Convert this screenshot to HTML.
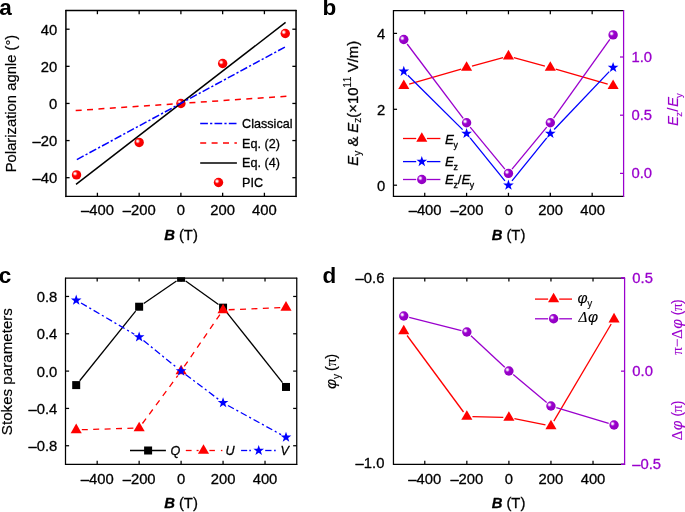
<!DOCTYPE html>
<html lang="en"><head><meta charset="utf-8"><title>Figure</title>
<style>
html,body{margin:0;padding:0;background:#fff;}
body{width:685px;height:512px;overflow:hidden;}
svg{display:block;font-family:"Liberation Sans",sans-serif;}
text{stroke:#000;stroke-width:0.3px;stroke-linejoin:round;}
text[fill="#9a00cd"]{stroke:#9a00cd;}
</style></head><body>
<svg width="685" height="512" viewBox="0 0 685 512">
<defs>
<radialGradient id="gr" cx="0.36" cy="0.37" r="0.64" fx="0.335" fy="0.36">
<stop offset="0" stop-color="#ffffff"/><stop offset="0.09" stop-color="#fff4f4"/><stop offset="0.22" stop-color="#ff9c9c"/><stop offset="0.36" stop-color="#ff1818"/><stop offset="0.46" stop-color="#ff0000"/><stop offset="1" stop-color="#f00000"/>
</radialGradient>
<radialGradient id="gp" cx="0.36" cy="0.37" r="0.64" fx="0.335" fy="0.36">
<stop offset="0" stop-color="#ffffff"/><stop offset="0.09" stop-color="#fbf2fe"/><stop offset="0.22" stop-color="#d698ec"/><stop offset="0.36" stop-color="#a318d2"/><stop offset="0.46" stop-color="#9a00cd"/><stop offset="1" stop-color="#9000c0"/>
</radialGradient>
</defs>
<rect width="685" height="512" fill="#fff"/>
<path d="M65.90,10.50 H296.05 M65.90,196.45 H296.05" fill="none" stroke="#000" stroke-width="1.3" stroke-linecap="round"/>
<line x1="65.90" y1="10.50" x2="65.90" y2="196.45" stroke="#000" stroke-width="1.5" stroke-linecap="round"/>
<line x1="296.05" y1="10.50" x2="296.05" y2="196.45" stroke="#000" stroke-width="1.5" stroke-linecap="round"/>
<line x1="97.40" y1="196.45" x2="97.40" y2="192.75" stroke="#000" stroke-width="1.3" stroke-linecap="butt"/>
<line x1="97.40" y1="10.50" x2="97.40" y2="14.20" stroke="#000" stroke-width="1.3" stroke-linecap="butt"/>
<text x="97.40" y="215.00" font-size="14.8" text-anchor="middle" fill="#000">–400</text>
<line x1="139.15" y1="196.45" x2="139.15" y2="192.75" stroke="#000" stroke-width="1.3" stroke-linecap="butt"/>
<line x1="139.15" y1="10.50" x2="139.15" y2="14.20" stroke="#000" stroke-width="1.3" stroke-linecap="butt"/>
<text x="139.15" y="215.00" font-size="14.8" text-anchor="middle" fill="#000">–200</text>
<line x1="180.90" y1="196.45" x2="180.90" y2="192.75" stroke="#000" stroke-width="1.3" stroke-linecap="butt"/>
<line x1="180.90" y1="10.50" x2="180.90" y2="14.20" stroke="#000" stroke-width="1.3" stroke-linecap="butt"/>
<text x="180.90" y="215.00" font-size="14.8" text-anchor="middle" fill="#000">0</text>
<line x1="222.65" y1="196.45" x2="222.65" y2="192.75" stroke="#000" stroke-width="1.3" stroke-linecap="butt"/>
<line x1="222.65" y1="10.50" x2="222.65" y2="14.20" stroke="#000" stroke-width="1.3" stroke-linecap="butt"/>
<text x="222.65" y="215.00" font-size="14.8" text-anchor="middle" fill="#000">200</text>
<line x1="264.40" y1="196.45" x2="264.40" y2="192.75" stroke="#000" stroke-width="1.3" stroke-linecap="butt"/>
<line x1="264.40" y1="10.50" x2="264.40" y2="14.20" stroke="#000" stroke-width="1.3" stroke-linecap="butt"/>
<text x="264.40" y="215.00" font-size="14.8" text-anchor="middle" fill="#000">400</text>
<line x1="65.90" y1="177.69" x2="69.60" y2="177.69" stroke="#000" stroke-width="1.3" stroke-linecap="butt"/>
<line x1="296.05" y1="177.69" x2="292.35" y2="177.69" stroke="#000" stroke-width="1.3" stroke-linecap="butt"/>
<text x="57.30" y="183.19" font-size="14.8" text-anchor="end" fill="#000">–40</text>
<line x1="65.90" y1="140.57" x2="69.60" y2="140.57" stroke="#000" stroke-width="1.3" stroke-linecap="butt"/>
<line x1="296.05" y1="140.57" x2="292.35" y2="140.57" stroke="#000" stroke-width="1.3" stroke-linecap="butt"/>
<text x="57.30" y="146.07" font-size="14.8" text-anchor="end" fill="#000">–20</text>
<line x1="65.90" y1="103.45" x2="69.60" y2="103.45" stroke="#000" stroke-width="1.3" stroke-linecap="butt"/>
<line x1="296.05" y1="103.45" x2="292.35" y2="103.45" stroke="#000" stroke-width="1.3" stroke-linecap="butt"/>
<text x="57.30" y="108.95" font-size="14.8" text-anchor="end" fill="#000">0</text>
<line x1="65.90" y1="66.33" x2="69.60" y2="66.33" stroke="#000" stroke-width="1.3" stroke-linecap="butt"/>
<line x1="296.05" y1="66.33" x2="292.35" y2="66.33" stroke="#000" stroke-width="1.3" stroke-linecap="butt"/>
<text x="57.30" y="71.83" font-size="14.8" text-anchor="end" fill="#000">20</text>
<line x1="65.90" y1="29.21" x2="69.60" y2="29.21" stroke="#000" stroke-width="1.3" stroke-linecap="butt"/>
<line x1="296.05" y1="29.21" x2="292.35" y2="29.21" stroke="#000" stroke-width="1.3" stroke-linecap="butt"/>
<text x="57.30" y="34.71" font-size="14.8" text-anchor="end" fill="#000">40</text>
<circle cx="76.53" cy="174.91" r="4.7" fill="url(#gr)"/>
<circle cx="139.15" cy="142.43" r="4.7" fill="url(#gr)"/>
<circle cx="180.90" cy="103.45" r="4.7" fill="url(#gr)"/>
<circle cx="222.65" cy="63.55" r="4.7" fill="url(#gr)"/>
<circle cx="285.27" cy="33.48" r="4.7" fill="url(#gr)"/>
<line x1="286.40" y1="96.25" x2="75.30" y2="110.60" stroke="#ff0000" stroke-width="1.5" stroke-dasharray="6.0 5.4" stroke-linecap="butt"/>
<line x1="285.60" y1="22.40" x2="76.00" y2="184.40" stroke="#000" stroke-width="1.5" stroke-linecap="butt"/>
<line x1="284.90" y1="47.10" x2="75.70" y2="160.20" stroke="#0000ff" stroke-width="1.5" stroke-dasharray="7.7 2.2 2.2 2.2" stroke-linecap="butt"/>
<line x1="200.20" y1="123.60" x2="236.90" y2="123.60" stroke="#0000ff" stroke-width="1.5" stroke-dasharray="7.7 2.2 2.2 2.2" stroke-linecap="butt"/>
<line x1="200.20" y1="143.10" x2="236.90" y2="143.10" stroke="#ff0000" stroke-width="1.5" stroke-dasharray="6.0 5.4" stroke-linecap="butt"/>
<line x1="200.20" y1="162.90" x2="236.90" y2="162.90" stroke="#000" stroke-width="1.5" stroke-linecap="butt"/>
<circle cx="218.50" cy="182.50" r="4.7" fill="url(#gr)"/>
<text x="242.10" y="128.20" font-size="12.6" text-anchor="start" fill="#000">Classical</text>
<text x="242.10" y="147.80" font-size="12.6" text-anchor="start" fill="#000">Eq. (2)</text>
<text x="242.10" y="167.30" font-size="12.6" text-anchor="start" fill="#000">Eq. (4)</text>
<text x="242.10" y="187.20" font-size="12.6" text-anchor="start" fill="#000">PIC</text>
<text x="181" y="239.6" font-size="14.8" text-anchor="middle"><tspan font-weight="bold" font-style="italic">B</tspan> (T)</text>
<text transform="translate(15.90,103.50) rotate(-90)" font-size="14.8" text-anchor="middle" fill="#000" style="stroke-width:0.2px">Polarization agnle (°)</text>
<text x="-0.80" y="15.40" font-size="22.5" text-anchor="start" fill="#000" font-weight="bold" style="stroke:none">a</text>
<path d="M393.45,10.70 H623.60 M393.45,196.40 H623.60" fill="none" stroke="#000" stroke-width="1.25" stroke-linecap="round"/>
<line x1="393.45" y1="10.70" x2="393.45" y2="196.40" stroke="#000" stroke-width="1.25" stroke-linecap="round"/>
<line x1="623.60" y1="10.70" x2="623.60" y2="196.40" stroke="#9a00cd" stroke-width="1.25" stroke-linecap="round"/>
<line x1="424.73" y1="196.40" x2="424.73" y2="192.80" stroke="#000" stroke-width="1.25" stroke-linecap="butt"/>
<line x1="424.73" y1="10.70" x2="424.73" y2="14.30" stroke="#000" stroke-width="1.25" stroke-linecap="butt"/>
<text x="425.13" y="215.00" font-size="14.8" text-anchor="middle" fill="#000">–400</text>
<line x1="466.59" y1="196.40" x2="466.59" y2="192.80" stroke="#000" stroke-width="1.25" stroke-linecap="butt"/>
<line x1="466.59" y1="10.70" x2="466.59" y2="14.30" stroke="#000" stroke-width="1.25" stroke-linecap="butt"/>
<text x="466.99" y="215.00" font-size="14.8" text-anchor="middle" fill="#000">–200</text>
<line x1="508.45" y1="196.40" x2="508.45" y2="192.80" stroke="#000" stroke-width="1.25" stroke-linecap="butt"/>
<line x1="508.45" y1="10.70" x2="508.45" y2="14.30" stroke="#000" stroke-width="1.25" stroke-linecap="butt"/>
<text x="508.85" y="215.00" font-size="14.8" text-anchor="middle" fill="#000">0</text>
<line x1="550.31" y1="196.40" x2="550.31" y2="192.80" stroke="#000" stroke-width="1.25" stroke-linecap="butt"/>
<line x1="550.31" y1="10.70" x2="550.31" y2="14.30" stroke="#000" stroke-width="1.25" stroke-linecap="butt"/>
<text x="550.71" y="215.00" font-size="14.8" text-anchor="middle" fill="#000">200</text>
<line x1="592.17" y1="196.40" x2="592.17" y2="192.80" stroke="#000" stroke-width="1.25" stroke-linecap="butt"/>
<line x1="592.17" y1="10.70" x2="592.17" y2="14.30" stroke="#000" stroke-width="1.25" stroke-linecap="butt"/>
<text x="592.57" y="215.00" font-size="14.8" text-anchor="middle" fill="#000">400</text>
<line x1="393.45" y1="185.20" x2="397.05" y2="185.20" stroke="#000" stroke-width="1.25" stroke-linecap="butt"/>
<text x="385.20" y="190.70" font-size="14.8" text-anchor="end" fill="#000">0</text>
<line x1="393.45" y1="109.30" x2="397.05" y2="109.30" stroke="#000" stroke-width="1.25" stroke-linecap="butt"/>
<text x="385.20" y="114.80" font-size="14.8" text-anchor="end" fill="#000">2</text>
<line x1="393.45" y1="33.40" x2="397.05" y2="33.40" stroke="#000" stroke-width="1.25" stroke-linecap="butt"/>
<text x="385.20" y="38.90" font-size="14.8" text-anchor="end" fill="#000">4</text>
<line x1="623.60" y1="173.40" x2="620.00" y2="173.40" stroke="#9a00cd" stroke-width="1.25" stroke-linecap="butt"/>
<text x="631.50" y="177.90" font-size="14.8" text-anchor="start" fill="#9a00cd">0.0</text>
<line x1="623.60" y1="115.20" x2="620.00" y2="115.20" stroke="#9a00cd" stroke-width="1.25" stroke-linecap="butt"/>
<text x="631.50" y="119.70" font-size="14.8" text-anchor="start" fill="#9a00cd">0.5</text>
<line x1="623.60" y1="57.00" x2="620.00" y2="57.00" stroke="#9a00cd" stroke-width="1.25" stroke-linecap="butt"/>
<text x="631.50" y="61.50" font-size="14.8" text-anchor="start" fill="#9a00cd">1.0</text>
<line x1="409.18" y1="84.21" x2="461.21" y2="69.12" stroke="#ff0000" stroke-width="1.3" stroke-linecap="butt"/>
<line x1="471.99" y1="66.09" x2="503.05" y2="57.64" stroke="#ff0000" stroke-width="1.3" stroke-linecap="butt"/>
<line x1="513.85" y1="57.64" x2="544.91" y2="66.09" stroke="#ff0000" stroke-width="1.3" stroke-linecap="butt"/>
<line x1="555.69" y1="69.12" x2="607.72" y2="84.21" stroke="#ff0000" stroke-width="1.3" stroke-linecap="butt"/>
<line x1="407.78" y1="75.29" x2="462.61" y2="129.65" stroke="#0000ff" stroke-width="1.3" stroke-linecap="butt"/>
<line x1="470.12" y1="137.94" x2="504.92" y2="180.85" stroke="#0000ff" stroke-width="1.3" stroke-linecap="butt"/>
<line x1="511.98" y1="180.85" x2="546.78" y2="137.94" stroke="#0000ff" stroke-width="1.3" stroke-linecap="butt"/>
<line x1="554.17" y1="129.53" x2="609.24" y2="71.61" stroke="#0000ff" stroke-width="1.3" stroke-linecap="butt"/>
<line x1="407.17" y1="44.01" x2="463.22" y2="118.30" stroke="#9a00cd" stroke-width="1.3" stroke-linecap="butt"/>
<line x1="470.16" y1="127.08" x2="504.88" y2="169.08" stroke="#9a00cd" stroke-width="1.3" stroke-linecap="butt"/>
<line x1="512.02" y1="169.08" x2="546.74" y2="127.08" stroke="#9a00cd" stroke-width="1.3" stroke-linecap="butt"/>
<line x1="553.57" y1="118.21" x2="609.84" y2="39.44" stroke="#9a00cd" stroke-width="1.3" stroke-linecap="butt"/>
<polygon points="403.80,79.42 398.25,89.02 409.35,89.02" fill="#ff0000"/>
<polygon points="466.59,61.20 461.04,70.80 472.14,70.80" fill="#ff0000"/>
<polygon points="508.45,49.82 502.90,59.42 514.00,59.42" fill="#ff0000"/>
<polygon points="550.31,61.20 544.76,70.80 555.86,70.80" fill="#ff0000"/>
<polygon points="613.10,79.42 607.55,89.02 618.65,89.02" fill="#ff0000"/>
<polygon points="403.80,65.75 405.12,69.54 409.13,69.62 405.93,72.04 407.09,75.88 403.80,73.59 400.51,75.88 401.67,72.04 398.47,69.62 402.48,69.54" fill="#0000ff"/>
<polygon points="466.59,127.99 467.91,131.78 471.92,131.86 468.72,134.28 469.88,138.12 466.59,135.83 463.30,138.12 464.46,134.28 461.26,131.86 465.27,131.78" fill="#0000ff"/>
<polygon points="508.45,179.60 509.77,183.39 513.78,183.47 510.58,185.89 511.74,189.73 508.45,187.44 505.16,189.73 506.32,185.89 503.12,183.47 507.13,183.39" fill="#0000ff"/>
<polygon points="550.31,127.99 551.63,131.78 555.64,131.86 552.44,134.28 553.60,138.12 550.31,135.83 547.02,138.12 548.18,134.28 544.98,131.86 548.99,131.78" fill="#0000ff"/>
<polygon points="613.10,61.95 614.42,65.74 618.43,65.82 615.23,68.25 616.39,72.09 613.10,69.79 609.81,72.09 610.97,68.25 607.77,65.82 611.78,65.74" fill="#0000ff"/>
<circle cx="403.80" cy="39.54" r="4.7" fill="url(#gp)"/>
<circle cx="466.59" cy="122.77" r="4.7" fill="url(#gp)"/>
<circle cx="508.45" cy="173.40" r="4.7" fill="url(#gp)"/>
<circle cx="550.31" cy="122.77" r="4.7" fill="url(#gp)"/>
<circle cx="613.10" cy="34.88" r="4.7" fill="url(#gp)"/>
<line x1="403.00" y1="138.50" x2="416.20" y2="138.50" stroke="#ff0000" stroke-width="1.3" stroke-linecap="butt"/>
<line x1="426.90" y1="138.50" x2="440.40" y2="138.50" stroke="#ff0000" stroke-width="1.3" stroke-linecap="butt"/>
<line x1="403.00" y1="161.60" x2="416.20" y2="161.60" stroke="#0000ff" stroke-width="1.3" stroke-linecap="butt"/>
<line x1="426.90" y1="161.60" x2="440.40" y2="161.60" stroke="#0000ff" stroke-width="1.3" stroke-linecap="butt"/>
<line x1="403.00" y1="179.50" x2="416.20" y2="179.50" stroke="#9a00cd" stroke-width="1.3" stroke-linecap="butt"/>
<line x1="426.90" y1="179.50" x2="440.40" y2="179.50" stroke="#9a00cd" stroke-width="1.3" stroke-linecap="butt"/>
<polygon points="421.80,132.15 416.25,141.75 427.35,141.75" fill="#ff0000"/>
<polygon points="421.80,156.00 423.12,159.79 427.13,159.87 423.93,162.29 425.09,166.13 421.80,163.84 418.51,166.13 419.67,162.29 416.47,159.87 420.48,159.79" fill="#0000ff"/>
<circle cx="421.80" cy="179.50" r="4.7" fill="url(#gp)"/>
<text x="445.0" y="143.9" font-size="13.3"><tspan font-style="italic">E</tspan><tspan font-size="8.8" dy="3.7" dx="-0.5">y</tspan></text>
<text x="445.0" y="166.15" font-size="13.3"><tspan font-style="italic">E</tspan><tspan font-size="8.8" dy="3.7" dx="-0.5">z</tspan></text>
<text x="445.0" y="184.2" font-size="13.3"><tspan font-style="italic">E</tspan><tspan font-size="8.8" dy="3.7" dx="-0.5">z</tspan><tspan dy="-3.7">/</tspan><tspan font-style="italic">E</tspan><tspan font-size="8.8" dy="3.7" dx="-0.5">y</tspan></text>
<text x="508.5" y="239.6" font-size="14.8" text-anchor="middle"><tspan font-weight="bold" font-style="italic">B</tspan> (T)</text>
<text transform="translate(357.6,103.3) rotate(-90)" font-size="14.8" text-anchor="middle"><tspan font-style="italic">E</tspan><tspan font-size="10.2" dy="3.2" style="stroke-width:0.1px">y</tspan><tspan dy="-3.2"> &amp; </tspan><tspan font-style="italic">E</tspan><tspan font-size="10.2" dy="3.2" style="stroke-width:0.1px">z</tspan><tspan dy="-3.2">(×10</tspan><tspan font-size="10.2" dy="-6.2" letter-spacing="0.4" style="stroke-width:0.1px">11</tspan><tspan dy="6.2"> V/m)</tspan></text>
<text transform="translate(678.2,126.0) rotate(-90)" font-size="15.2" text-anchor="start" fill="#9a00cd" style="stroke-width:0.15px"><tspan font-style="italic">E</tspan><tspan font-size="9.6" dy="3.8" dx="-1">z</tspan><tspan dy="-3.8" dx="0.3">/</tspan><tspan font-style="italic" dx="0.5">E</tspan><tspan font-size="9.6" dy="3.8" dx="-1">y</tspan></text>
<text x="322.50" y="15.40" font-size="22.5" text-anchor="start" fill="#000" font-weight="bold" style="stroke:none">b</text>
<path d="M65.50,278.00 H296.75 M65.50,464.45 H296.75" fill="none" stroke="#000" stroke-width="1.25" stroke-linecap="round"/>
<line x1="65.50" y1="278.00" x2="65.50" y2="464.45" stroke="#000" stroke-width="1.25" stroke-linecap="round"/>
<line x1="296.75" y1="278.00" x2="296.75" y2="464.45" stroke="#000" stroke-width="1.25" stroke-linecap="round"/>
<line x1="97.18" y1="464.45" x2="97.18" y2="460.85" stroke="#000" stroke-width="1.25" stroke-linecap="butt"/>
<line x1="97.18" y1="278.00" x2="97.18" y2="281.60" stroke="#000" stroke-width="1.25" stroke-linecap="butt"/>
<text x="97.18" y="483.50" font-size="14.8" text-anchor="middle" fill="#000">–400</text>
<line x1="139.14" y1="464.45" x2="139.14" y2="460.85" stroke="#000" stroke-width="1.25" stroke-linecap="butt"/>
<line x1="139.14" y1="278.00" x2="139.14" y2="281.60" stroke="#000" stroke-width="1.25" stroke-linecap="butt"/>
<text x="139.14" y="483.50" font-size="14.8" text-anchor="middle" fill="#000">–200</text>
<line x1="181.10" y1="464.45" x2="181.10" y2="460.85" stroke="#000" stroke-width="1.25" stroke-linecap="butt"/>
<line x1="181.10" y1="278.00" x2="181.10" y2="281.60" stroke="#000" stroke-width="1.25" stroke-linecap="butt"/>
<text x="181.10" y="483.50" font-size="14.8" text-anchor="middle" fill="#000">0</text>
<line x1="223.06" y1="464.45" x2="223.06" y2="460.85" stroke="#000" stroke-width="1.25" stroke-linecap="butt"/>
<line x1="223.06" y1="278.00" x2="223.06" y2="281.60" stroke="#000" stroke-width="1.25" stroke-linecap="butt"/>
<text x="223.06" y="483.50" font-size="14.8" text-anchor="middle" fill="#000">200</text>
<line x1="265.02" y1="464.45" x2="265.02" y2="460.85" stroke="#000" stroke-width="1.25" stroke-linecap="butt"/>
<line x1="265.02" y1="278.00" x2="265.02" y2="281.60" stroke="#000" stroke-width="1.25" stroke-linecap="butt"/>
<text x="265.02" y="483.50" font-size="14.8" text-anchor="middle" fill="#000">400</text>
<line x1="65.50" y1="445.74" x2="69.10" y2="445.74" stroke="#000" stroke-width="1.25" stroke-linecap="butt"/>
<line x1="296.75" y1="445.74" x2="293.15" y2="445.74" stroke="#000" stroke-width="1.25" stroke-linecap="butt"/>
<text x="57.30" y="451.24" font-size="14.8" text-anchor="end" fill="#000">–0.8</text>
<line x1="65.50" y1="408.42" x2="69.10" y2="408.42" stroke="#000" stroke-width="1.25" stroke-linecap="butt"/>
<line x1="296.75" y1="408.42" x2="293.15" y2="408.42" stroke="#000" stroke-width="1.25" stroke-linecap="butt"/>
<text x="57.30" y="413.92" font-size="14.8" text-anchor="end" fill="#000">–0.4</text>
<line x1="65.50" y1="371.10" x2="69.10" y2="371.10" stroke="#000" stroke-width="1.25" stroke-linecap="butt"/>
<line x1="296.75" y1="371.10" x2="293.15" y2="371.10" stroke="#000" stroke-width="1.25" stroke-linecap="butt"/>
<text x="57.30" y="376.60" font-size="14.8" text-anchor="end" fill="#000">0.0</text>
<line x1="65.50" y1="333.78" x2="69.10" y2="333.78" stroke="#000" stroke-width="1.25" stroke-linecap="butt"/>
<line x1="296.75" y1="333.78" x2="293.15" y2="333.78" stroke="#000" stroke-width="1.25" stroke-linecap="butt"/>
<text x="57.30" y="339.28" font-size="14.8" text-anchor="end" fill="#000">0.4</text>
<line x1="65.50" y1="296.46" x2="69.10" y2="296.46" stroke="#000" stroke-width="1.25" stroke-linecap="butt"/>
<line x1="296.75" y1="296.46" x2="293.15" y2="296.46" stroke="#000" stroke-width="1.25" stroke-linecap="butt"/>
<text x="57.30" y="301.96" font-size="14.8" text-anchor="end" fill="#000">0.8</text>
<line x1="79.71" y1="380.73" x2="135.63" y2="311.09" stroke="#000" stroke-width="1.3" stroke-linecap="butt"/>
<line x1="143.75" y1="303.54" x2="176.49" y2="280.98" stroke="#000" stroke-width="1.3" stroke-linecap="butt"/>
<line x1="185.66" y1="281.05" x2="218.50" y2="304.41" stroke="#000" stroke-width="1.3" stroke-linecap="butt"/>
<line x1="226.54" y1="312.04" x2="282.52" y2="382.57" stroke="#000" stroke-width="1.3" stroke-linecap="butt"/>
<line x1="81.80" y1="429.71" x2="133.54" y2="428.18" stroke="#ff0000" stroke-width="1.3" stroke-dasharray="6.0 5.4" stroke-linecap="butt"/>
<line x1="142.46" y1="423.51" x2="177.78" y2="375.61" stroke="#ff0000" stroke-width="1.3" stroke-dasharray="6.0 5.4" stroke-linecap="butt"/>
<line x1="184.27" y1="366.48" x2="219.89" y2="314.61" stroke="#ff0000" stroke-width="1.3" stroke-dasharray="6.0 5.4" stroke-linecap="butt"/>
<line x1="228.66" y1="309.76" x2="280.40" y2="307.69" stroke="#ff0000" stroke-width="1.3" stroke-dasharray="6.0 5.4" stroke-linecap="butt"/>
<line x1="81.03" y1="303.02" x2="134.31" y2="334.22" stroke="#0000ff" stroke-width="1.3" stroke-dasharray="6.7 2.9 2.1 2.9" stroke-linecap="butt"/>
<line x1="143.49" y1="340.57" x2="176.75" y2="367.57" stroke="#0000ff" stroke-width="1.3" stroke-dasharray="6.7 2.9 2.1 2.9" stroke-linecap="butt"/>
<line x1="185.57" y1="374.48" x2="218.59" y2="399.44" stroke="#0000ff" stroke-width="1.3" stroke-dasharray="6.7 2.9 2.1 2.9" stroke-linecap="butt"/>
<line x1="227.97" y1="405.51" x2="281.09" y2="434.65" stroke="#0000ff" stroke-width="1.3" stroke-dasharray="6.7 2.9 2.1 2.9" stroke-linecap="butt"/>
<clipPath id="cc"><rect x="60" y="277.3" width="245" height="200"/></clipPath><g clip-path="url(#cc)">
<rect x="72.20" y="381.10" width="8.0" height="8.0" fill="#000"/>
<rect x="135.14" y="302.72" width="8.0" height="8.0" fill="#000"/>
<rect x="177.10" y="273.80" width="8.0" height="8.0" fill="#000"/>
<rect x="219.06" y="303.66" width="8.0" height="8.0" fill="#000"/>
<rect x="282.00" y="382.96" width="8.0" height="8.0" fill="#000"/>
</g>
<polygon points="76.20,423.53 70.65,433.13 81.75,433.13" fill="#ff0000"/>
<polygon points="139.14,421.66 133.59,431.26 144.69,431.26" fill="#ff0000"/>
<polygon points="181.10,364.75 175.55,374.35 186.65,374.35" fill="#ff0000"/>
<polygon points="223.06,303.64 217.51,313.24 228.61,313.24" fill="#ff0000"/>
<polygon points="286.00,301.12 280.45,310.72 291.55,310.72" fill="#ff0000"/>
<polygon points="76.20,294.59 77.52,298.38 81.53,298.46 78.33,300.88 79.49,304.72 76.20,302.43 72.91,304.72 74.07,300.88 70.87,298.46 74.88,298.38" fill="#0000ff"/>
<polygon points="139.14,331.45 140.46,335.23 144.47,335.32 141.27,337.74 142.43,341.58 139.14,339.29 135.85,341.58 137.01,337.74 133.81,335.32 137.82,335.23" fill="#0000ff"/>
<polygon points="181.10,365.50 182.42,369.29 186.43,369.37 183.23,371.79 184.39,375.63 181.10,373.34 177.81,375.63 178.97,371.79 175.77,369.37 179.78,369.29" fill="#0000ff"/>
<polygon points="223.06,397.22 224.38,401.01 228.39,401.09 225.19,403.51 226.35,407.35 223.06,405.06 219.77,407.35 220.93,403.51 217.73,401.09 221.74,401.01" fill="#0000ff"/>
<polygon points="286.00,431.74 287.32,435.53 291.33,435.61 288.13,438.04 289.29,441.87 286.00,439.58 282.71,441.87 283.87,438.04 280.67,435.61 284.68,435.53" fill="#0000ff"/>
<line x1="130.00" y1="450.50" x2="165.90" y2="450.50" stroke="#000" stroke-width="1.3" stroke-linecap="butt"/>
<rect x="144.10" y="446.50" width="8.0" height="8.0" fill="#000"/>
<line x1="185.80" y1="450.50" x2="191.60" y2="450.50" stroke="#ff0000" stroke-width="1.3" stroke-linecap="butt"/>
<line x1="196.60" y1="450.50" x2="198.60" y2="450.50" stroke="#ff0000" stroke-width="1.3" stroke-linecap="butt"/>
<line x1="209.40" y1="450.50" x2="214.90" y2="450.50" stroke="#ff0000" stroke-width="1.3" stroke-linecap="butt"/>
<line x1="220.90" y1="450.50" x2="222.40" y2="450.50" stroke="#ff0000" stroke-width="1.3" stroke-linecap="butt"/>
<polygon points="203.50,444.15 197.95,453.75 209.05,453.75" fill="#ff0000"/>
<line x1="241.10" y1="450.50" x2="247.20" y2="450.50" stroke="#0000ff" stroke-width="1.3" stroke-linecap="butt"/>
<line x1="249.30" y1="450.50" x2="250.90" y2="450.50" stroke="#0000ff" stroke-width="1.3" stroke-linecap="butt"/>
<line x1="265.20" y1="450.50" x2="271.50" y2="450.50" stroke="#0000ff" stroke-width="1.3" stroke-linecap="butt"/>
<line x1="274.10" y1="450.50" x2="275.70" y2="450.50" stroke="#0000ff" stroke-width="1.3" stroke-linecap="butt"/>
<polygon points="258.70,444.90 260.02,448.69 264.03,448.77 260.83,451.19 261.99,455.03 258.70,452.74 255.41,455.03 256.57,451.19 253.37,448.77 257.38,448.69" fill="#0000ff"/>
<text x="170.50" y="455.00" font-size="12.6" text-anchor="start" fill="#000" font-style="italic">Q</text>
<text x="225.50" y="455.00" font-size="12.6" text-anchor="start" fill="#000" font-style="italic">U</text>
<text x="280.50" y="455.00" font-size="12.6" text-anchor="start" fill="#000" font-style="italic">V</text>
<text x="181" y="507.6" font-size="14.8" text-anchor="middle"><tspan font-weight="bold" font-style="italic">B</tspan> (T)</text>
<text transform="translate(12.10,371.60) rotate(-90)" font-size="15.15" text-anchor="middle" fill="#000" style="stroke-width:0.2px">Stokes parameters</text>
<text x="-1.30" y="283.00" font-size="22.5" text-anchor="start" fill="#000" font-weight="bold" style="stroke:none">c</text>
<path d="M393.45,278.00 H624.60 M393.45,464.30 H624.60" fill="none" stroke="#000" stroke-width="1.25" stroke-linecap="round"/>
<line x1="393.45" y1="278.00" x2="393.45" y2="464.30" stroke="#000" stroke-width="1.25" stroke-linecap="round"/>
<line x1="624.60" y1="278.00" x2="624.60" y2="464.30" stroke="#9a00cd" stroke-width="1.25" stroke-linecap="round"/>
<line x1="624.60" y1="278.00" x2="621.00" y2="278.00" stroke="#9a00cd" stroke-width="1.25" stroke-linecap="butt"/>
<line x1="624.60" y1="464.30" x2="621.00" y2="464.30" stroke="#9a00cd" stroke-width="1.25" stroke-linecap="butt"/>
<line x1="424.78" y1="464.30" x2="424.78" y2="460.70" stroke="#000" stroke-width="1.25" stroke-linecap="butt"/>
<line x1="424.78" y1="278.00" x2="424.78" y2="281.60" stroke="#000" stroke-width="1.25" stroke-linecap="butt"/>
<text x="424.78" y="484.00" font-size="14.8" text-anchor="middle" fill="#000">–400</text>
<line x1="466.84" y1="464.30" x2="466.84" y2="460.70" stroke="#000" stroke-width="1.25" stroke-linecap="butt"/>
<line x1="466.84" y1="278.00" x2="466.84" y2="281.60" stroke="#000" stroke-width="1.25" stroke-linecap="butt"/>
<text x="466.84" y="484.00" font-size="14.8" text-anchor="middle" fill="#000">–200</text>
<line x1="508.90" y1="464.30" x2="508.90" y2="460.70" stroke="#000" stroke-width="1.25" stroke-linecap="butt"/>
<line x1="508.90" y1="278.00" x2="508.90" y2="281.60" stroke="#000" stroke-width="1.25" stroke-linecap="butt"/>
<text x="508.90" y="484.00" font-size="14.8" text-anchor="middle" fill="#000">0</text>
<line x1="550.96" y1="464.30" x2="550.96" y2="460.70" stroke="#000" stroke-width="1.25" stroke-linecap="butt"/>
<line x1="550.96" y1="278.00" x2="550.96" y2="281.60" stroke="#000" stroke-width="1.25" stroke-linecap="butt"/>
<text x="550.96" y="484.00" font-size="14.8" text-anchor="middle" fill="#000">200</text>
<line x1="593.02" y1="464.30" x2="593.02" y2="460.70" stroke="#000" stroke-width="1.25" stroke-linecap="butt"/>
<line x1="593.02" y1="278.00" x2="593.02" y2="281.60" stroke="#000" stroke-width="1.25" stroke-linecap="butt"/>
<text x="593.02" y="484.00" font-size="14.8" text-anchor="middle" fill="#000">400</text>
<text x="384.40" y="283.40" font-size="14.8" text-anchor="end" fill="#000">–0.6</text>
<text x="384.40" y="468.20" font-size="14.8" text-anchor="end" fill="#000">–1.0</text>
<line x1="624.60" y1="278.00" x2="621.00" y2="278.00" stroke="#9a00cd" stroke-width="1.25" stroke-linecap="butt"/>
<text x="632.30" y="283.10" font-size="14.8" text-anchor="start" fill="#9a00cd">0.5</text>
<line x1="624.60" y1="371.15" x2="621.00" y2="371.15" stroke="#9a00cd" stroke-width="1.25" stroke-linecap="butt"/>
<text x="632.30" y="376.25" font-size="14.8" text-anchor="start" fill="#9a00cd">0.0</text>
<line x1="624.60" y1="464.30" x2="621.00" y2="464.30" stroke="#9a00cd" stroke-width="1.25" stroke-linecap="butt"/>
<text x="632.30" y="469.40" font-size="14.8" text-anchor="start" fill="#9a00cd">–0.5</text>
<line x1="407.07" y1="335.51" x2="463.52" y2="411.99" stroke="#ff0000" stroke-width="1.3" stroke-linecap="butt"/>
<line x1="472.44" y1="416.63" x2="503.30" y2="417.37" stroke="#ff0000" stroke-width="1.3" stroke-linecap="butt"/>
<line x1="514.39" y1="418.61" x2="545.47" y2="424.89" stroke="#ff0000" stroke-width="1.3" stroke-linecap="butt"/>
<line x1="553.81" y1="421.18" x2="611.20" y2="324.02" stroke="#ff0000" stroke-width="1.3" stroke-linecap="butt"/>
<line x1="409.18" y1="317.38" x2="461.41" y2="330.62" stroke="#9a00cd" stroke-width="1.3" stroke-linecap="butt"/>
<line x1="470.95" y1="335.81" x2="504.79" y2="367.19" stroke="#9a00cd" stroke-width="1.3" stroke-linecap="butt"/>
<line x1="513.20" y1="374.58" x2="546.66" y2="402.42" stroke="#9a00cd" stroke-width="1.3" stroke-linecap="butt"/>
<line x1="556.32" y1="407.61" x2="608.69" y2="423.39" stroke="#9a00cd" stroke-width="1.3" stroke-linecap="butt"/>
<polygon points="403.75,324.65 398.20,334.25 409.30,334.25" fill="#ff0000"/>
<polygon points="466.84,410.15 461.29,419.75 472.39,419.75" fill="#ff0000"/>
<polygon points="508.90,411.15 503.35,420.75 514.45,420.75" fill="#ff0000"/>
<polygon points="550.96,419.65 545.41,429.25 556.51,429.25" fill="#ff0000"/>
<polygon points="614.05,312.85 608.50,322.45 619.60,322.45" fill="#ff0000"/>
<circle cx="403.75" cy="316.00" r="4.7" fill="url(#gp)"/>
<circle cx="466.84" cy="332.00" r="4.7" fill="url(#gp)"/>
<circle cx="508.90" cy="371.00" r="4.7" fill="url(#gp)"/>
<circle cx="550.96" cy="406.00" r="4.7" fill="url(#gp)"/>
<circle cx="614.05" cy="425.00" r="4.7" fill="url(#gp)"/>
<line x1="535.00" y1="299.10" x2="548.10" y2="299.10" stroke="#ff0000" stroke-width="1.3" stroke-linecap="butt"/>
<line x1="559.20" y1="299.10" x2="572.00" y2="299.10" stroke="#ff0000" stroke-width="1.3" stroke-linecap="butt"/>
<line x1="535.00" y1="318.80" x2="548.10" y2="318.80" stroke="#9a00cd" stroke-width="1.3" stroke-linecap="butt"/>
<line x1="559.20" y1="318.80" x2="572.00" y2="318.80" stroke="#9a00cd" stroke-width="1.3" stroke-linecap="butt"/>
<polygon points="553.60,292.75 548.05,302.35 559.15,302.35" fill="#ff0000"/>
<circle cx="553.60" cy="318.80" r="4.7" fill="url(#gp)"/>
<text x="577.4" y="303.3" font-size="13.3" style="stroke-width:0.12px"><tspan font-style="italic" font-size="15.5">φ</tspan><tspan font-size="10" dy="3.6" dx="-0.3">y</tspan></text>
<text x="578.4" y="322.3" font-size="15" font-style="italic" style="stroke-width:0.12px"><tspan font-family="'Liberation Serif',serif">Δ</tspan><tspan font-size="15.5" dx="0.8">φ</tspan></text>
<text x="508.5" y="507.6" font-size="14.8" text-anchor="middle"><tspan font-weight="bold" font-style="italic">B</tspan> (T)</text>
<text transform="translate(336.4,388.9) rotate(-90)" font-size="14.8" text-anchor="start" style="stroke-width:0.15px"><tspan font-style="italic" font-size="15.5">φ</tspan><tspan font-size="10.2" dy="3.8" dx="-0.3">y</tspan><tspan dy="-3.8" dx="3.0">(</tspan><tspan font-family="'Liberation Serif',serif" font-size="15.5" dx="-0.3">π</tspan><tspan dx="-0.3">)</tspan></text>
<text transform="translate(682.3,354.8) rotate(-90)" font-size="14" text-anchor="start" fill="#9a00cd" style="stroke-width:0.1px"><tspan font-family="'Liberation Serif',serif" font-size="15">π−Δ</tspan><tspan font-size="15" font-style="italic" dx="0.3">φ</tspan><tspan dx="3.9">(</tspan><tspan font-family="'Liberation Serif',serif" font-size="15" dx="-0.5">π</tspan><tspan dx="-0.5">)</tspan></text>
<text transform="translate(682.3,440.2) rotate(-90)" font-size="14" text-anchor="start" fill="#9a00cd" style="stroke-width:0.1px"><tspan font-family="'Liberation Serif',serif" font-size="15">Δ</tspan><tspan font-size="15" font-style="italic" dx="0.3">φ</tspan><tspan dx="3.9">(</tspan><tspan font-family="'Liberation Serif',serif" font-size="15" dx="-0.5">π</tspan><tspan dx="-0.5">)</tspan></text>
<text x="322.60" y="283.00" font-size="22.5" text-anchor="start" fill="#000" font-weight="bold" style="stroke:none">d</text>
</svg>
</body></html>
